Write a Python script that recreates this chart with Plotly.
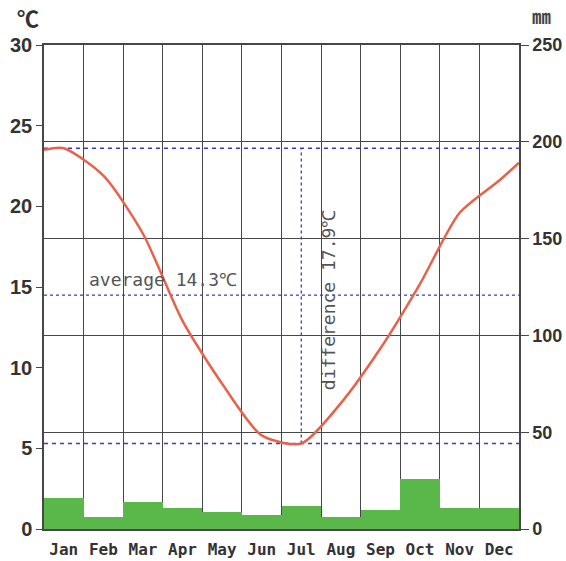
import plotly.graph_objects as go

months = ["Jan", "Feb", "Mar", "Apr", "May", "Jun", "Jul", "Aug", "Sep", "Oct", "Nov", "Dec"]
month_pos = [0.5, 1.5, 2.5, 3.5, 4.5, 5.5, 6.5, 7.5, 8.5, 9.5, 10.5, 11.5]

# precipitation (mm), right axis
precip = [16, 6, 14, 11, 9, 7, 12, 6, 10, 26, 11, 11]

# temperature curve (deg C), left axis; read at chart edges and month centres
temp_x = [0, 0.5, 1.5, 2.5, 3.5, 4.5, 5.5, 6.5, 7.5, 8.5, 9.5, 10.5, 11.5, 12]
temp_y = [23.5, 23.6, 21.9, 18.3, 12.9, 9.0, 5.8, 5.3, 7.8, 11.2, 15.2, 19.6, 21.6, 22.7]

temp_max = 23.6
temp_min = 5.3
avg_line = 14.5
avg_label = "average 14.3℃"
diff_label = "difference 17.9℃"

left_ticks = [0, 5, 10, 15, 20, 25, 30]
right_ticks = [0, 50, 100, 150, 200, 250]

GRID = "#474747"
TXT = "#333333"
BLUE = "#3a3ac8"

W, H = 566, 561
ML, MR, MT, MB = 44, 47, 45, 32

fig = go.Figure()

fig.add_trace(go.Bar(
    x=month_pos, y=precip, width=1, yaxis="y2",
    marker=dict(color="#5ab84b", line=dict(width=0)),
    showlegend=False, hoverinfo="skip",
))

# dashed reference lines
for yy in (temp_max, temp_min):
    fig.add_trace(go.Scatter(x=[0, 12], y=[yy, yy], mode="lines",
                             line=dict(color=BLUE, width=1.3, dash="4px,4px"), showlegend=False))
fig.add_trace(go.Scatter(x=[0, 12], y=[avg_line, avg_line], mode="lines",
                         line=dict(color=BLUE, width=1.3, dash="3px,3px"), showlegend=False))
fig.add_trace(go.Scatter(x=[6.5, 6.5], y=[temp_min, temp_max], mode="lines",
                         line=dict(color=BLUE, width=1.3, dash="3px,3px"), showlegend=False))

fig.add_trace(go.Scatter(
    x=temp_x, y=temp_y, mode="lines",
    line=dict(color="#e8624a", width=2.5, shape="spline", smoothing=0.7),
    showlegend=False, hoverinfo="skip",
))


def px_to_paper(px_x, px_y_top):
    pw = W - ML - MR
    ph = H - MT - MB
    return (px_x - ML) / pw, ((H - px_y_top) - MB) / ph


ux1, uy1 = px_to_paper(28, 17)
ux2, uy2 = px_to_paper(541, 15)

fig.update_layout(
    width=W, height=H,
    margin=dict(l=ML, r=MR, t=MT, b=MB, autoexpand=False),
    paper_bgcolor="white", plot_bgcolor="white",
    bargap=0,
    xaxis=dict(
        range=[0, 12], tickvals=month_pos, ticktext=months, showgrid=False,
        ticks="outside", ticklen=5, tickcolor="rgba(0,0,0,0)",
        zeroline=False, showline=True, mirror=True, linecolor=GRID, linewidth=1.5,
        automargin=False,
        tickfont=dict(family="DejaVu Sans Mono", size=16, color=TXT, weight="bold"),
        minor=dict(tick0=0, dtick=1, showgrid=True, gridcolor=GRID, gridwidth=1.3, ticks=""),
    ),
    yaxis=dict(
        range=[0, 30], tickvals=left_ticks, showgrid=False, zeroline=False,
        ticks="outside", ticklen=6, tickcolor=GRID, tickwidth=1.3,
        showline=True, linecolor=GRID, linewidth=1.5, automargin=False,
        tickfont=dict(family="Liberation Sans", size=20, color=TXT, weight="bold"),
    ),
    yaxis2=dict(
        range=[0, 250], tickvals=right_ticks, overlaying="y", side="right",
        showgrid=True, gridcolor=GRID, gridwidth=1.3, zeroline=False,
        ticks="outside", ticklen=8, tickcolor=GRID, tickwidth=1.3,
        showline=True, linecolor=GRID, linewidth=1.5, automargin=False,
        tickfont=dict(family="Liberation Sans Narrow, Liberation Sans", size=18, color=TXT, weight="bold"),
    ),
    annotations=[
        dict(text=avg_label, x=3.0, y=avg_line, xref="x", yref="y", yanchor="bottom",
             showarrow=False, yshift=3,
             font=dict(family="DejaVu Sans Mono", size=18, color="#555555")),
        dict(text=diff_label, x=6.5, y=14.2, xref="x", yref="y",
             textangle=-90, showarrow=False, xshift=28,
             font=dict(family="DejaVu Sans Mono", size=18, color="#555555")),
        dict(text="℃", x=ux1, y=uy1, xref="paper", yref="paper", showarrow=False,
             xanchor="center", yanchor="middle",
             font=dict(family="Noto Sans CJK JP", size=22, color=TXT, weight="bold")),
        dict(text="㎜", x=ux2, y=uy2, xref="paper", yref="paper", showarrow=False,
             xanchor="center", yanchor="middle",
             font=dict(family="Noto Sans CJK JP", size=19, color="#444444", weight="bold")),
    ],
)

fig.write_html("out.html")
